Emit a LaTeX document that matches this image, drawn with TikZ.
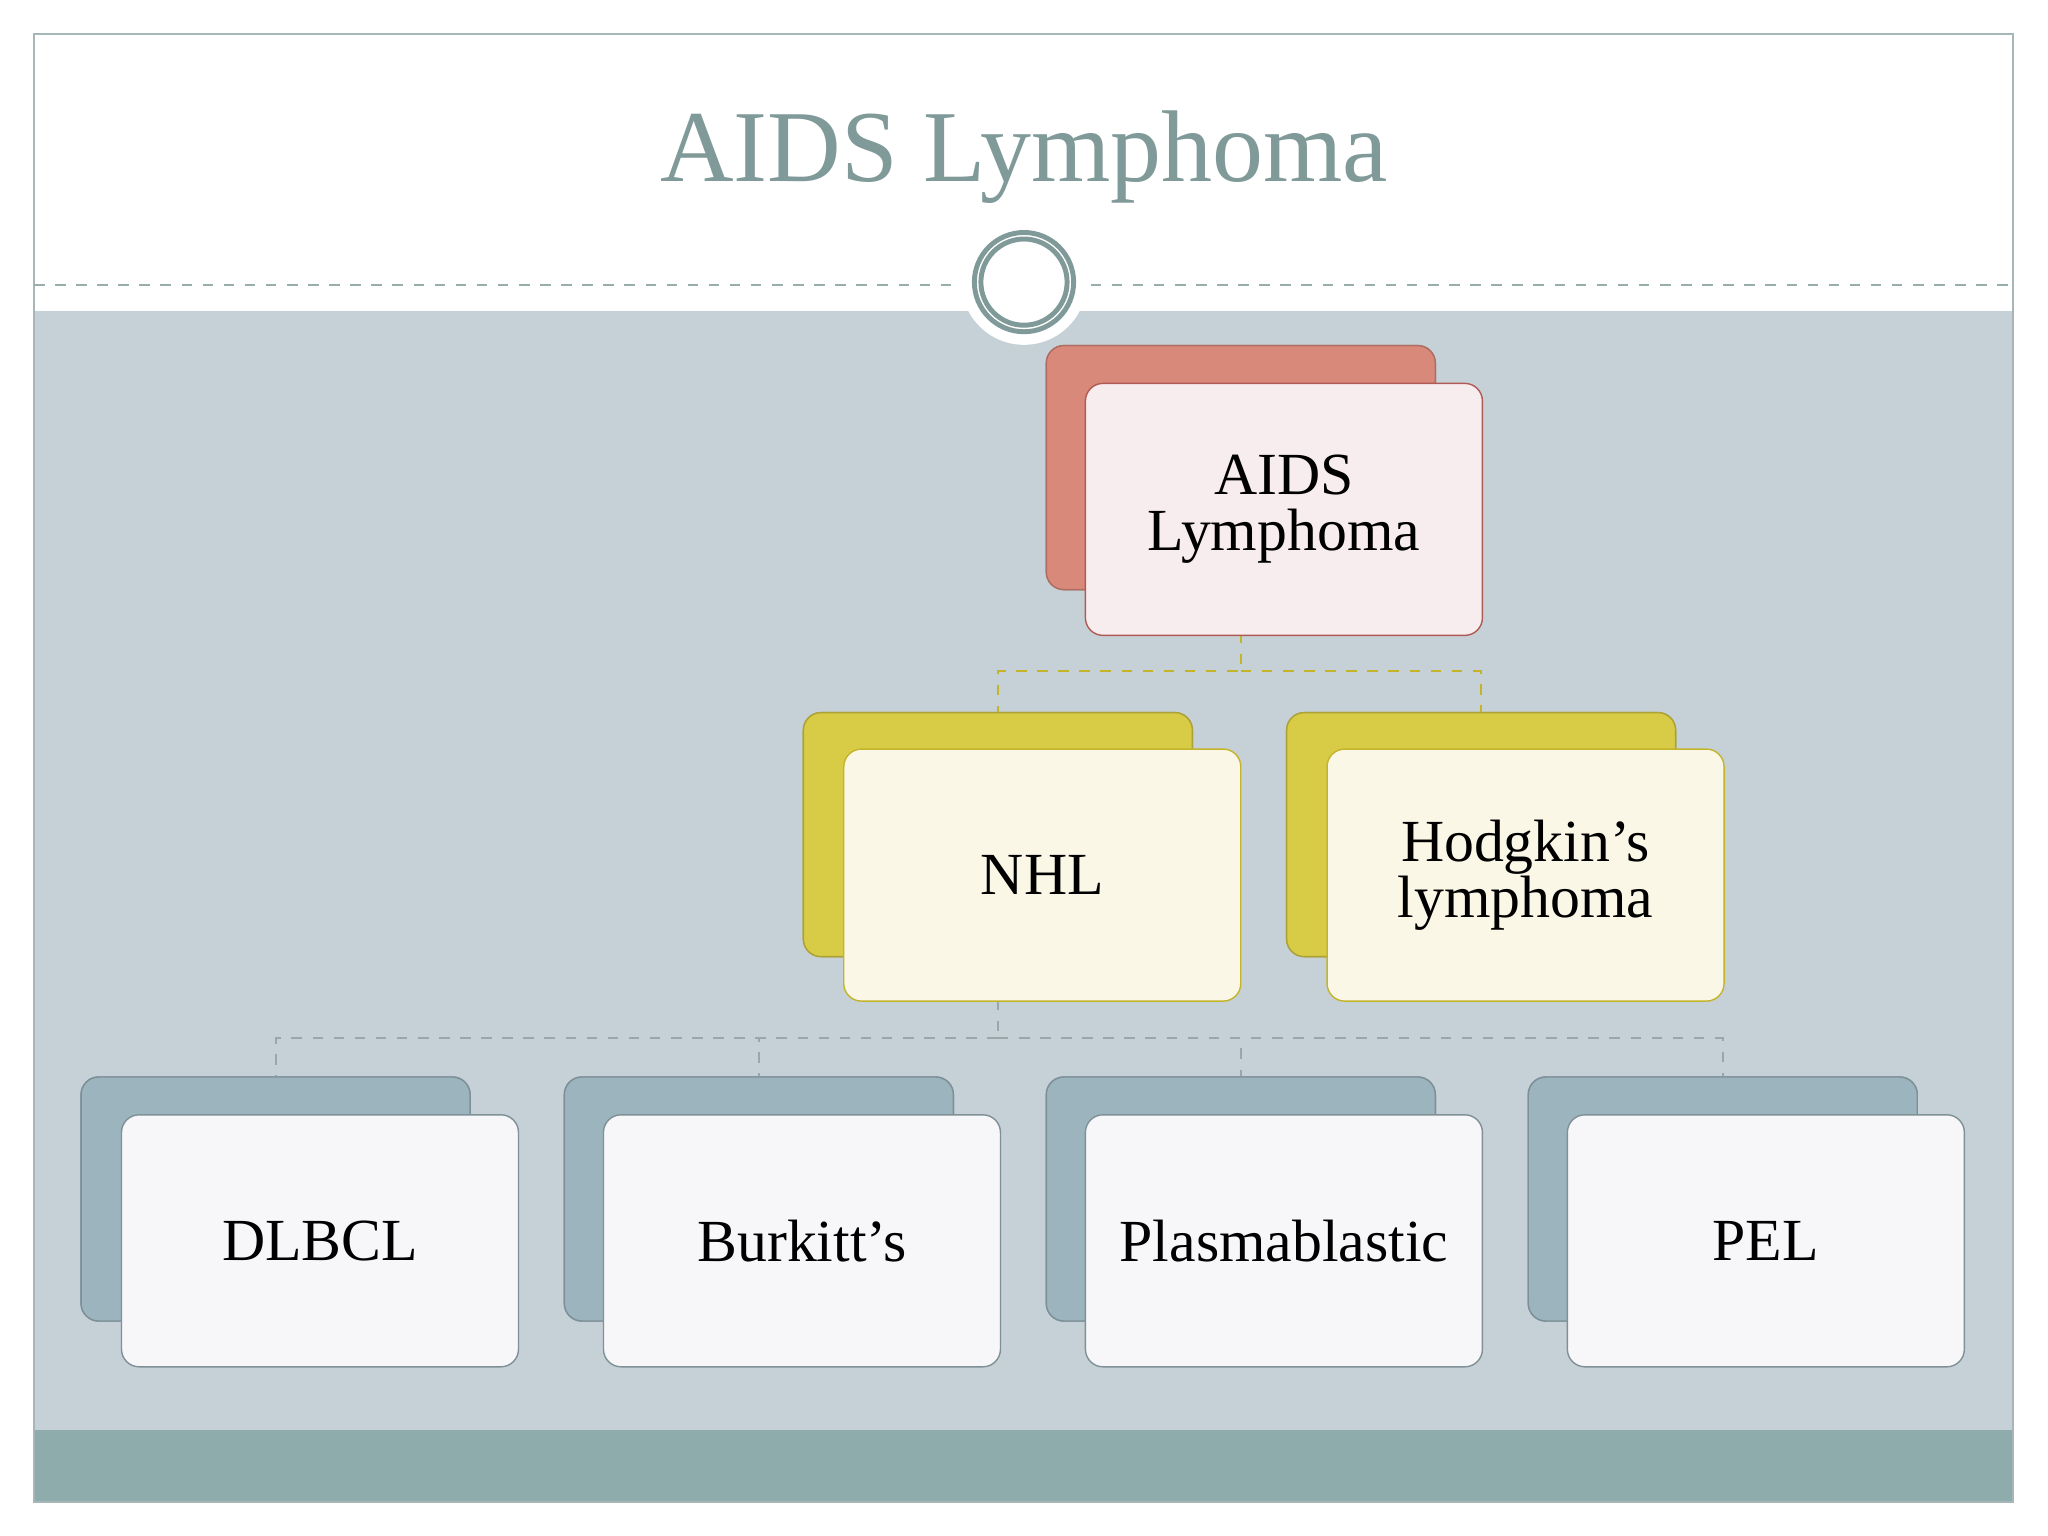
\documentclass[tikz,border=0pt]{standalone}
\usepackage{fontspec}
\setmainfont{Liberation Serif}
\usetikzlibrary{positioning}
\definecolor{slate}{HTML}{C5D1D7}
\definecolor{band}{HTML}{8FACAC}
\definecolor{titlec}{HTML}{7F9A98}
\definecolor{redb}{HTML}{D9897A}
\definecolor{redl}{HTML}{B05A55}
\definecolor{redf}{HTML}{F8EDEE}
\definecolor{yelb}{HTML}{D8CB45}
\definecolor{yell}{HTML}{C4B42A}
\definecolor{yelf}{HTML}{FAF7E6}
\definecolor{blub}{HTML}{9CB4BE}
\definecolor{blul}{HTML}{7F9196}
\definecolor{bluf}{HTML}{F7F7FA}
\tikzset{
  back/.style={draw=#1!80!black, fill=#1, rounded corners=5pt, minimum width=3.89cm, minimum height=2.44cm, inner sep=0pt},
  front/.style={draw=#1, rounded corners=5pt, minimum width=3.97cm, minimum height=2.52cm, inner sep=0pt, align=center, font=\fontsize{17}{16}\selectfont},
  yconn/.style={draw=yell, dashed, line width=.6pt},
  gconn/.style={draw=blul!80, dashed, line width=.6pt}
}
\begin{document}
\begin{tikzpicture}[x=0.01306cm, y=-0.01306cm]
	\useasboundingbox (0,0) rectangle (1568,1176);
	\fill[white] (0,0) rectangle (1568,1176);
	\fill[slate] (26,238) rectangle (1541,1095);
	\fill[band] (26,1095) rectangle (1541,1150);
	\draw[titlec!70, line width=.6pt] (26,26) rectangle (1541,1150);
	\draw[titlec!80, dashed, line width=.5pt] (26,218) -- (730,218) (835,218) -- (1541,218);
	\fill[white] (784,216) circle (48);
	\draw[titlec, line width=1.4pt] (784,216) circle (38) (784,216) circle (33);
	\node[text=titlec, font=\fontsize{29}{30}\selectfont] (title) at (784,120) {AIDS Lymphoma};
	% back boxes
	\node[back=redb] (rootb) at (950,358) {};
	\node[back=yelb] (nhlb) at (764,639) {};
	\node[back=yelb] (hodb) at (1134,639) {};
	\foreach \n/\x in {dlb/211,bur/581,pla/950,pel/1319}
		\node[back=blub] (\n) at (\x,918) {};
	% connectors
	\coordinate (rj) at (950,514);
	\draw[yconn] (rootb.south) -- (rj) -| (nhlb.north);
	\draw[yconn] (rj) -| (hodb.north);
	\coordinate (nj) at (764,795);
	\draw[gconn] (nhlb.south) -- (nj);
	\foreach \n in {dlb,bur,pla,pel}
		\draw[gconn] (nj) -| (\n.north);
	% redraw back boxes over connectors
	\node[back=redb] at (rootb) {};
	\node[back=yelb] at (nhlb) {};
	\node[back=yelb] at (hodb) {};
	\foreach \n in {dlb,bur,pla,pel}
		\node[back=blub] at (\n) {};
	% front boxes
	\node[front=redl, fill=redf] (root) at (983,390) {AIDS\\Lymphoma};
	\node[front=yell, fill=yelf] (nhl) at (798,670) {NHL};
	\node[front=yell, fill=yelf] (hod) at (1168,670) {Hodgkin’s\\lymphoma};
	\foreach \n/\x/\t in {dlbf/245/DLBCL,burf/614/Burkitt’s,plaf/983/Plasmablastic,pelf/1352/PEL}
		\node[front=blul, fill=bluf] (\n) at (\x,950) {\t};
\end{tikzpicture}
\end{document}
